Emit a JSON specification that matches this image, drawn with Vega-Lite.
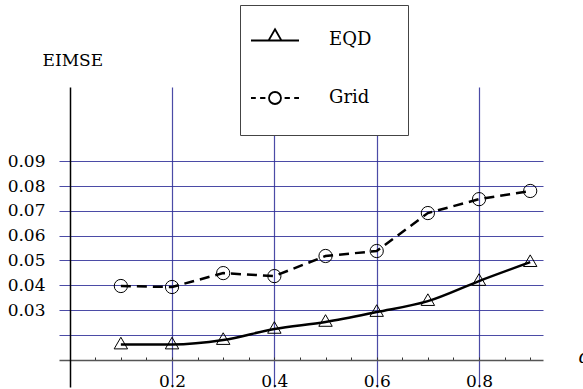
{
  "$schema": "https://vega.github.io/schema/vega-lite/v6.json",
  "width": 484,
  "height": 300,
  "autosize": {"type": "none"},
  "padding": {"left": 59, "top": 87, "right": 40, "bottom": 2},
  "config": {
    "view": {"stroke": null},
    "font": "DejaVu Serif",
    "axis": {"labelFont": "DejaVu Serif", "titleFont": "DejaVu Serif", "labelColor": "black", "titleColor": "black", "titleFontWeight": "normal"},
    "legend": {"labelFont": "DejaVu Serif", "titleFont": "DejaVu Serif"}
  },
  "datasets": {
    "main": [
      {"alpha": 0.1, "eimse": 0.0161, "series": "EQD"},
      {"alpha": 0.2, "eimse": 0.0161, "series": "EQD"},
      {"alpha": 0.3, "eimse": 0.0179, "series": "EQD"},
      {"alpha": 0.4, "eimse": 0.0224, "series": "EQD"},
      {"alpha": 0.5, "eimse": 0.0252, "series": "EQD"},
      {"alpha": 0.6, "eimse": 0.0292, "series": "EQD"},
      {"alpha": 0.7, "eimse": 0.0336, "series": "EQD"},
      {"alpha": 0.8, "eimse": 0.0417, "series": "EQD"},
      {"alpha": 0.9, "eimse": 0.0493, "series": "EQD"},
      {"alpha": 0.1, "eimse": 0.0397, "series": "Grid"},
      {"alpha": 0.2, "eimse": 0.0393, "series": "Grid"},
      {"alpha": 0.3, "eimse": 0.0449, "series": "Grid"},
      {"alpha": 0.4, "eimse": 0.0437, "series": "Grid"},
      {"alpha": 0.5, "eimse": 0.0518, "series": "Grid"},
      {"alpha": 0.6, "eimse": 0.0538, "series": "Grid"},
      {"alpha": 0.7, "eimse": 0.0691, "series": "Grid"},
      {"alpha": 0.8, "eimse": 0.0747, "series": "Grid"},
      {"alpha": 0.9, "eimse": 0.078, "series": "Grid"}
    ],
    "legendRows": [
      {"alpha": 0.5, "eimse": 0.1, "series": "EQD"},
      {"alpha": 0.5, "eimse": 0.11, "series": "Grid"}
    ]
  },
  "data": {"name": "main"},
  "encoding": {
    "x": {
      "field": "alpha", "type": "quantitative",
      "scale": {"domain": [-0.0209, 0.925], "nice": false, "zero": false},
      "axis": {
        "values": [0.05, 0.1, 0.15, 0.2, 0.25, 0.3, 0.35, 0.4, 0.45, 0.5, 0.55, 0.6, 0.65, 0.7, 0.75, 0.8, 0.85, 0.9],
        "labelExpr": "round(datum.value*100) % 20 == 0 ? format(datum.value, '.1f') : ''",
        "grid": true,
        "gridColor": "#2c2c96",
        "gridWidth": 1.2,
        "gridOpacity": {"condition": {"test": "round(datum.value*100) % 20 == 0", "value": 0.85}, "value": 0},
        "offset": -27,
        "domainColor": "#555555",
        "domainWidth": 1.5,
        "tickColor": "#333333",
        "tickSize": -3,
        "tickWidth": 1,
        "labelFontSize": 17,
        "labelPadding": 16,
        "labelBaseline": "top",
        "labelFlush": false,
        "title": "α",
        "titleFontSize": 18,
        "titleFontStyle": "italic",
        "titleX": 519,
        "titleY": 2,
        "titleAlign": "left",
        "titleBaseline": "alphabetic"
      }
    },
    "y": {
      "field": "eimse", "type": "quantitative",
      "scale": {"domain": [-0.001, 0.1199], "nice": false, "zero": false},
      "axis": {
        "values": [0.02, 0.03, 0.04, 0.05, 0.06, 0.07, 0.08, 0.09],
        "labelExpr": "datum.value < 0.025 ? '' : format(datum.value, '.2f')",
        "grid": true,
        "gridColor": "#2c2c96",
        "gridWidth": 1.2,
        "gridOpacity": 0.85,
        "offset": -11,
        "domainColor": "black",
        "domainWidth": 1.5,
        "ticks": false,
        "labelFontSize": 17,
        "labelPadding": 25,
        "title": "EIMSE",
        "titleFontSize": 17,
        "titleAngle": 0,
        "titleX": -28,
        "titleY": -22,
        "titleAlign": "left",
        "titleBaseline": "alphabetic"
      }
    }
  },
  "layer": [
    {
      "transform": [{"filter": "datum.series == 'EQD'"}],
      "mark": {"type": "line", "color": "black", "strokeWidth": 2.5, "interpolate": "monotone"}
    },
    {
      "transform": [{"filter": "datum.series == 'Grid'"}],
      "mark": {"type": "line", "color": "black", "strokeWidth": 2.5, "strokeDash": [10, 6]}
    },
    {
      "transform": [{"filter": "datum.series == 'EQD'"}],
      "mark": {"type": "point", "shape": "triangle-up", "size": 180, "filled": false, "color": "black", "strokeWidth": 1, "opacity": 1, "yOffset": -1.5}
    },
    {
      "transform": [{"filter": "datum.series == 'Grid'"}],
      "mark": {"type": "point", "shape": "circle", "size": 175, "filled": false, "color": "black", "strokeWidth": 1, "opacity": 1}
    },
    {
      "data": {"name": "legendRows"},
      "mark": {"type": "point", "filled": false, "color": "black", "strokeWidth": 1.8, "size": 2304, "opacity": 0},
      "encoding": {
        "shape": {
          "field": "series", "type": "nominal",
          "scale": {
            "domain": ["EQD", "Grid"],
            "range": [
              "M-1,0.02H1M0,-0.45L0.27,0.02L-0.27,0.02Z",
              "M-1,0H-0.8M-0.62,0H-0.4M0.4,0H0.62M0.8,0H1M-0.25,0A0.25,0.25,0,1,1,0.25,0A0.25,0.25,0,1,1,-0.25,0Z"
            ]
          },
          "legend": {
            "title": "\u00a0",
            "titleOrient": "bottom",
            "titleFontSize": 12,
            "titlePadding": 6,
            "orient": "none",
            "legendX": 181,
            "legendY": -82,
            "padding": 10,
            "strokeColor": "#444444",
            "fillColor": "white",
            "symbolSize": 2304,
            "symbolStrokeColor": "black",
            "symbolStrokeWidth": 1.8,
            "symbolOpacity": 1,
            "rowPadding": 24,
            "labelOffset": 29,
            "labelFontSize": 18,
            "labelColor": "black",
            "labelExpr": "datum.label + '\u2800\u2800'",
            "encode": {
              "symbols": {
                "update": {
                  "opacity": {"value": 1},
                  "stroke": {"value": "black"}
                }
              }
            }
          }
        }
      }
    }
  ]
}
